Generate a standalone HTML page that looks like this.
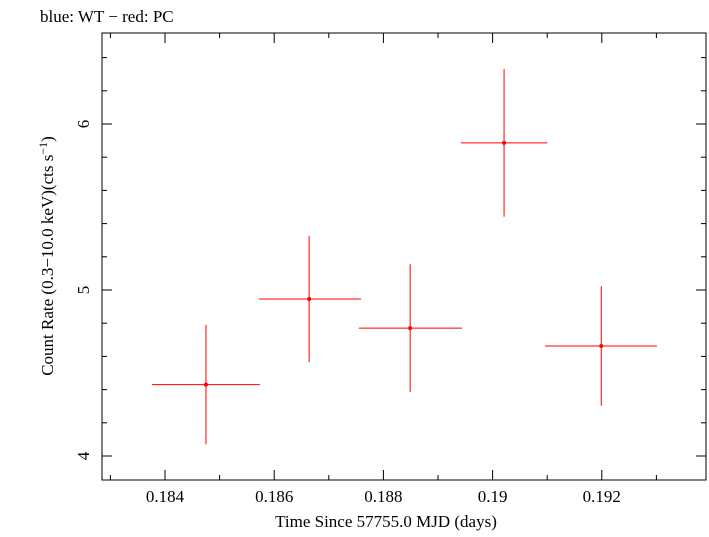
<!DOCTYPE html>
<html><head><meta charset="utf-8"><style>
body{margin:0;background:#fff;}
svg text{font-family:"Liberation Serif",serif;fill:#000;}
</style></head><body>
<svg id="chart" width="709" height="532" xmlns="http://www.w3.org/2000/svg">
<text x="40" y="22" font-size="17">blue: WT − red: PC</text>
<rect x="102" y="33" width="604" height="447" fill="none" stroke="#000" stroke-width="1"/>
<g id="ticks"></g>
<g id="marks"></g>
<text x="386" y="527" font-size="17" text-anchor="middle">Time Since 57755.0 MJD (days)</text>
<text transform="translate(53,256) rotate(-90)" font-size="17" text-anchor="middle">Count Rate (0.3−10.0 keV)(cts s<tspan dy="-6" font-size="12">−1</tspan><tspan dy="6">)</tspan></text>
</svg>
<script>
const xTicks=[0.184,0.186,0.188,0.190,0.192];
const xTickLabels=["0.184","0.186","0.188","0.19","0.192"];
const yTicks=[4,5,6];
const yTickLabels=["4","5","6"];
const xVals=[0.18475,0.18664,0.18849,0.19021,0.19199];
const xLo=[0.18376,0.18572,0.18755,0.18942,0.19096];
const xHi=[0.18574,0.18759,0.18944,0.19100,0.19301];
const yVals=[4.43,4.946,4.77,5.886,4.663];
const yErr=[0.36,0.38,0.385,0.445,0.36];
const X=v=>165+(v-0.184)*54600;
const Y=v=>290-(v-5)*166;
const NS="http://www.w3.org/2000/svg";
function mk(t,a,p){const e=document.createElementNS(NS,t);for(const k in a)e.setAttribute(k,a[k]);p.appendChild(e);return e;}
const tg=document.getElementById('ticks');
const L=102,R=706,T=33,B=480;
for(let k=182;k<=194;k++){const v=k/1000;const x=X(v);if(x<L||x>R)continue;const maj=k%2===0;const len=maj?10:5;
mk('line',{x1:x,x2:x,y1:B,y2:B-len,stroke:'#000'},tg);mk('line',{x1:x,x2:x,y1:T,y2:T+len,stroke:'#000'},tg);}
xTicks.forEach((v,i)=>{const t=mk('text',{x:X(v),y:502,'font-size':17,'text-anchor':'middle'},tg);t.textContent=xTickLabels[i];

});
for(let v=3.8;v<=6.6;v+=0.2){const y=Y(v);if(y<T||y>B)continue;const maj=Math.abs(v-Math.round(v))<1e-6;const len=maj?10:5;
mk('line',{x1:L,x2:L+len,y1:y,y2:y,stroke:'#000'},tg);mk('line',{x1:R,x2:R-len,y1:y,y2:y,stroke:'#000'},tg);}
yTicks.forEach((v,i)=>{const t=mk('text',{transform:`translate(89,${Y(v)}) rotate(-90)`,'font-size':17,'text-anchor':'middle'},tg);t.textContent=yTickLabels[i];

});
const mg=document.getElementById('marks');
xVals.forEach((xv,i)=>{
const h=mk('line',{x1:X(xLo[i]),x2:X(xHi[i]),y1:Y(yVals[i]),y2:Y(yVals[i]),stroke:'#f00','stroke-width':1},mg);


const v=mk('line',{x1:X(xv),x2:X(xv),y1:Y(yVals[i]-yErr[i]),y2:Y(yVals[i]+yErr[i]),stroke:'#f00','stroke-width':1},mg);


const c=mk('circle',{cx:X(xv),cy:Y(yVals[i]),r:2,fill:'#f00'},mg);


});
</script>
</body></html>
